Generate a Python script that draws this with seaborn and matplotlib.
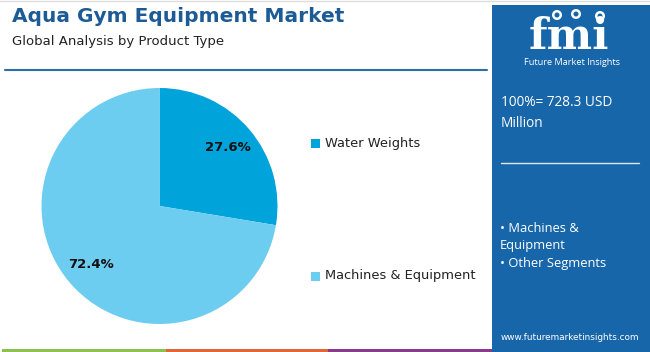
import matplotlib
matplotlib.use("Agg")
import matplotlib.pyplot as plt
from matplotlib.patches import Rectangle, Circle
import seaborn as sns

# ---- data ----
categories = ["Water Weights", "Machines & Equipment"]
shares = [27.6, 72.4]
total_label = "100%= 728.3 USD\nMillion"
panel_segments = ["Machines &", "Equipment", "Other Segments"]
title = "Aqua Gym Equipment Market"
subtitle = "Global Analysis by Product Type"

sns.set_theme(style="white")
plt.rcParams["font.family"] = ["DejaVu Sans"]

W, H = 650, 352
fig = plt.figure(figsize=(W / 100, H / 100), dpi=100)
fig.patch.set_facecolor("white")

def fx(x):
    return x / W

def fy(y):
    return 1 - y / H

colors = sns.color_palette(["#00a3da", "#6dcdf0"])
title_blue = "#1d5b97"
panel_blue = "#1766a9"

# background overlay axes in pixel coords
bg = fig.add_axes([0, 0, 1, 1])
bg.set_xlim(0, W)
bg.set_ylim(H, 0)
bg.axis("off")
bg.set_zorder(0)

# top thin gray border
bg.plot([0, W], [0.5, 0.5], color="#dddddd", lw=1)
# rule under title
bg.plot([5, 487], [70, 70], color="#2e6ea6", lw=1.5)
# bottom colored strip
for x0, x1, c in [(2, 166, "#8cc050"), (166, 328, "#e0663a"), (328, 492, "#8a3a8c")]:
    bg.add_patch(Rectangle((x0, 348.5), x1 - x0, 3.5, color=c, lw=0))
# right panel
bg.add_patch(Rectangle((492, 5), W - 492, H - 5, color=panel_blue, lw=0))

# logo: "fmi" with stripes
bg.text(569, 49, "fmi", color="white", fontsize=31, fontweight="bold",
        family="DejaVu Serif", ha="center", va="baseline")
for yy in range(22, 50, 3):
    bg.plot([518, 622], [yy, yy], color=panel_blue, lw=0.6)
for cx, cy in [(557, 15), (576, 14), (600, 16)]:
    bg.add_patch(Circle((cx, cy), 5, color="white", lw=0))
    bg.add_patch(Circle((cx, cy), 2.5, color=panel_blue, lw=0))
bg.text(572, 62.5, "Future Market Insights", color="white", fontsize=6.6,
        family="Open Sans", ha="center", va="center")

# panel texts
bg.text(501, 113, total_label, color="white", fontsize=9.8, family="Open Sans",
        ha="left", va="center", linespacing=1.55)
bg.plot([501, 639], [163, 163], color="white", lw=1, alpha=0.85)
for txt, yy in [("\u2022 " + panel_segments[0], 229),
                (panel_segments[1], 246),
                ("\u2022 " + panel_segments[2], 263)]:
    bg.text(500, yy, txt, color="white", fontsize=9.3, family="Open Sans",
            ha="left", va="center")
bg.text(570, 338, "www.futuremarketinsights.com", color="white", fontsize=6.4,
        ha="center", va="center")

# titles
bg.text(12, 17, title, color=title_blue, fontsize=14.5, fontweight="bold",
        ha="left", va="center")
bg.text(12, 41, subtitle, color="#222222", fontsize=9.5, ha="left", va="center")

# legend
leg_y = [143, 276]
for cat, c, yy in zip(categories, colors, leg_y):
    bg.add_patch(Rectangle((311, yy - 4.5), 9, 9, color=c, lw=0))
    bg.text(325, yy, cat, color="#222222", fontsize=9.4, ha="left", va="center")

# pie
cx, cy, r = 159.5, 206, 118
ax = fig.add_axes([fx(cx - r), fy(cy + r), 2 * r / W, 2 * r / H])
ax.set_zorder(1)
wedges, texts, autotexts = ax.pie(
    shares, colors=colors, startangle=90, counterclock=False,
    autopct="%.1f%%", pctdistance=0.76,
    wedgeprops=dict(linewidth=0),
    textprops=dict(fontsize=9.5, fontweight="bold", color="#111111"),
)
ax.set_xlim(-1, 1)
ax.set_ylim(-1, 1)
ax.set_aspect("equal")
ax.axis("off")

fig.savefig("out.png", dpi=100, facecolor="white")
